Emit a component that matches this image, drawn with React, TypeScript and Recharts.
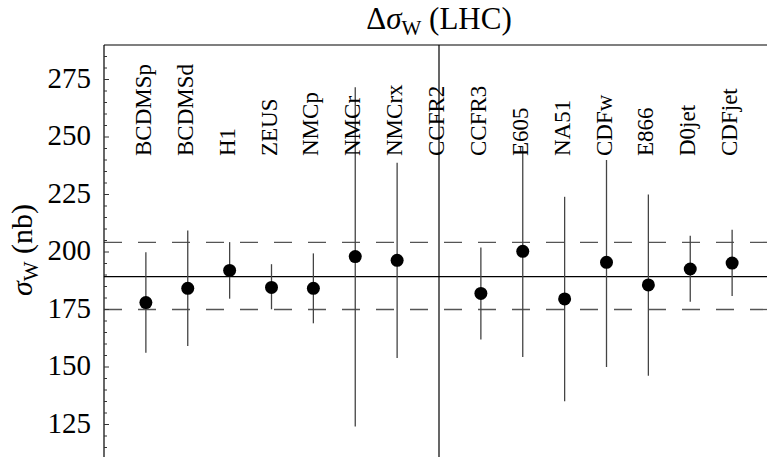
import { ComposedChart, Scatter, ErrorBar, XAxis, YAxis, ReferenceLine, Label } from 'recharts'

const experiments = ['BCDMSp', 'BCDMSd', 'H1', 'ZEUS', 'NMCp', 'NMCr', 'NMCrx', 'CCFR2', 'CCFR3', 'E605', 'NA51', 'CDFw', 'E866', 'D0jet', 'CDFjet']
const sigmaW = [178.0, 184.2, 192.0, 184.6, 184.2, 198.0, 196.4, null, 182.0, 200.3, 179.6, 195.5, 185.7, 192.6, 195.2]
const upper = [199.9, 209.3, 204.3, 194.7, 199.4, 271.6, 238.8, null, 202.0, 246.0, 224.0, 240.0, 225.0, 207.1, 209.7]
const lower = [156.2, 159.1, 179.7, 175.1, 169.0, 124.1, 153.9, null, 162.0, 154.3, 135.1, 150.0, 146.2, 178.4, 180.9]
const yTicks = [105, 110, 115, 120, 125, 130, 135, 140, 145, 150, 155, 160, 165, 170, 175, 180, 185, 190, 195, 200, 205, 210, 215, 220, 225, 230, 235, 240, 245, 250, 255, 260, 265, 270, 275, 280, 285]
const majorTicks = [125, 150, 175, 200, 225, 250, 275]
const central = 189.3
const bandHigh = 204.2
const bandLow = 175.0
const ccfr2Index = 7

const FONT = '"Liberation Serif", serif'
const AXIS_X = 104
const TOP = 45

const points = experiments
  .map((name, i) => ({
    x: i,
    name,
    y: sigmaW[i],
    err: sigmaW[i] == null ? null : [sigmaW[i]! - lower[i]!, upper[i]! - sigmaW[i]!],
  }))
  .filter((p) => p.y != null)

const YTick = ({ y, payload }: any) => {
  const major = majorTicks.includes(payload.value)
  return (
    <g>
      <line x1={AXIS_X} x2={AXIS_X + (major ? 5 : 3)} y1={y} y2={y} stroke="#333" strokeWidth={1} />
      {major && (
        <text x={91} y={y + 8} textAnchor="end" fontFamily="Liberation Serif" fontSize={29} fill="#000">
          {String(payload.value)}
        </text>
      )}
    </g>
  )
}

const XTick = ({ x, payload }: any) => {
  const tx = x + 5
  const ty = 156
  return (
    <text x={tx} y={ty} transform={`rotate(-90, ${tx}, ${ty})`} style={{ fontFamily: FONT, fontSize: 23 }} fill="#000">
      {experiments[payload.value]}
    </text>
  )
}

const Dot = ({ cx, cy }: any) => <circle cx={cx} cy={cy} r={6.5} fill="#000" />

export default function App() {
  return (
    <div style={{ position: 'absolute', left: 0, top: 0, width: 767, height: 457, overflow: 'hidden', background: '#fff', fontFamily: FONT }}>
      <ComposedChart width={800} height={500} margin={{ top: TOP - 1, right: 26, left: 0, bottom: 18 }} style={{ fontFamily: FONT }}>
        <XAxis
          type="number"
          dataKey="x"
          xAxisId="top"
          orientation="top"
          domain={[-1, 15]}
          ticks={experiments.map((_, i) => i)}
          height={1}
          tickLine={false}
          axisLine={{ stroke: '#000', strokeWidth: 1.2 }}
          tick={<XTick />}
          interval={0}
          allowDataOverflow
        >
          <Label
            position="top"
            content={({ viewBox }: any) => {
              const cx = viewBox.x + viewBox.width / 2
              return (
                <text x={cx} y={29} textAnchor="middle" style={{ fontFamily: FONT, fontSize: 31 }} fill="#000">
                  Δ<tspan fontStyle="italic">σ</tspan>
                  <tspan style={{ fontSize: 21 }} dy={6}>W</tspan>
                  <tspan dy={-6}> (LHC)</tspan>
                </text>
              )
            }}
          />
        </XAxis>
        <YAxis
          type="number"
          dataKey="y"
          domain={[100, 290]}
          ticks={yTicks}
          width={AXIS_X}
          tickLine={false}
          tickSize={0}
          tick={<YTick />}
          interval={0}
          axisLine={{ stroke: '#000', strokeWidth: 1.2 }}
          allowDataOverflow
        >
          <Label
            content={() => (
              <text x={32} y={250} transform="rotate(-90, 32, 250)" textAnchor="middle" fontFamily="Liberation Serif" fontSize={30} fill="#000">
                <tspan fontStyle="italic">σ</tspan>
                <tspan fontSize={21} dy={6}>W</tspan>
                <tspan dy={-6}> (nb)</tspan>
              </text>
            )}
          />
        </YAxis>
        <ReferenceLine xAxisId="top" y={bandHigh} stroke="#555" strokeWidth={1.3} strokeDasharray="18 16" ifOverflow="visible" />
        <ReferenceLine xAxisId="top" y={bandLow} stroke="#555" strokeWidth={1.3} strokeDasharray="18 16" ifOverflow="visible" />
        <ReferenceLine xAxisId="top" y={central} stroke="#000" strokeWidth={1.2} />
        <ReferenceLine xAxisId="top" x={ccfr2Index} stroke="#000" strokeWidth={1.2} />
        <Scatter xAxisId="top" data={points} dataKey="y" shape={<Dot />} isAnimationActive={false}>
          <ErrorBar dataKey="err" direction="y" width={0} stroke="#444" strokeWidth={1.3} isAnimationActive={false} />
        </Scatter>
      </ComposedChart>
    </div>
  )
}
